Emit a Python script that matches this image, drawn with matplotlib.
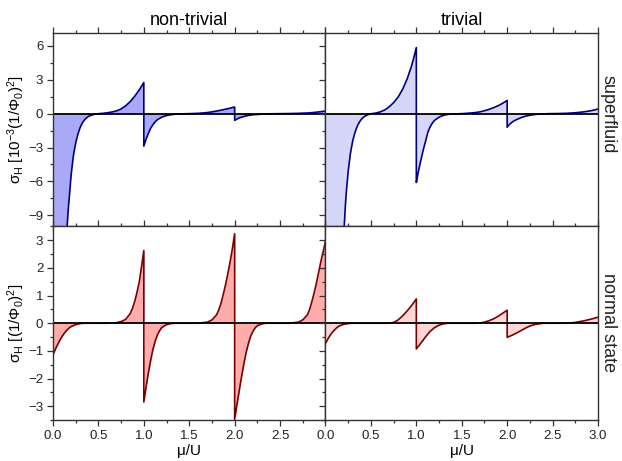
"""
Hall conductivity vs mu/U, superfluid / normal state, non-trivial / trivial
"""
import matplotlib
matplotlib.use('Agg')
import matplotlib.pyplot as plt
from matplotlib.ticker import MultipleLocator

plt.rcParams['font.family'] = ['Liberation Sans', 'DejaVu Sans']
plt.rcParams['mathtext.fontset'] = 'custom'
plt.rcParams['mathtext.rm'] = 'Liberation Sans'
plt.rcParams['mathtext.it'] = 'Liberation Sans:italic'

# non-trivial, superfluid  (units of 1e-3)
mu_nt_sf = [0.0, 0.08, 0.12, 0.155, 0.17, 0.187, 0.2, 0.225, 0.25, 0.275, 0.3, 0.325, 0.35, 0.375, 0.4,
            0.45, 0.5, 0.55, 0.6, 0.65, 0.7, 0.75, 0.8, 0.85, 0.9, 0.95, 1.0,
            1.0, 1.025, 1.05, 1.075, 1.1, 1.125, 1.15, 1.2, 1.25, 1.3, 1.35, 1.4, 1.5,
            1.6, 1.7, 1.75, 1.8, 1.85, 1.9, 1.95, 2.0,
            2.0, 2.05, 2.1, 2.15, 2.2, 2.3, 2.4, 2.5, 2.6, 2.7, 2.8, 2.85, 2.9, 2.95, 3.0]
sig_nt_sf = [-40, -22, -14, -10, -8.3, -6.7, -5.4, -3.7, -2.6, -1.8, -1.2, -0.8, -0.52, -0.33, -0.2,
             -0.07, 0.0, 0.03, 0.08, 0.15, 0.25, 0.42, 0.7, 1.07, 1.55, 2.12, 2.76,
             -2.88, -2.25, -1.75, -1.3, -0.98, -0.72, -0.53, -0.3, -0.17, -0.09, -0.04, -0.02, 0.0,
             0.03, 0.1, 0.16, 0.23, 0.31, 0.4, 0.49, 0.59,
             -0.59, -0.38, -0.25, -0.16, -0.1, -0.04, -0.01, 0.0, 0.01, 0.03, 0.06, 0.09, 0.13, 0.18, 0.24]

# trivial, superfluid  (units of 1e-3)
mu_t_sf = [0.0, 0.1, 0.17, 0.206, 0.22, 0.232, 0.25, 0.275, 0.3, 0.325, 0.35, 0.375, 0.4, 0.425, 0.45,
           0.475, 0.507, 0.55, 0.6, 0.65, 0.7, 0.75, 0.8, 0.85, 0.9, 0.95, 0.975, 1.0,
           1.0, 1.015, 1.03, 1.045, 1.06, 1.08, 1.1, 1.125, 1.15, 1.175, 1.2, 1.24, 1.28, 1.32, 1.36, 1.42,
           1.5, 1.6, 1.65, 1.7, 1.75, 1.8, 1.85, 1.9, 1.95, 2.0,
           2.0, 2.025, 2.05, 2.075, 2.1, 2.15, 2.2, 2.25, 2.3, 2.35, 2.45, 2.55, 2.65, 2.75, 2.8, 2.85,
           2.9, 2.95, 3.0]
sig_t_sf = [-40, -22, -13, -10, -8.0, -6.7, -5.1, -3.5, -2.4, -1.65, -1.1, -0.72, -0.45, -0.27, -0.15,
            -0.07, 0.0, 0.05, 0.15, 0.32, 0.6, 0.98, 1.48, 2.18, 3.1, 4.3, 5.05, 5.86,
            -6.1, -5.45, -4.85, -4.3, -3.77, -3.1, -2.5, -1.7, -1.2, -0.85, -0.6, -0.36, -0.2, -0.1, -0.05, -0.02,
            0.0, 0.06, 0.1, 0.16, 0.26, 0.38, 0.53, 0.7, 0.92, 1.17,
            -1.2, -0.95, -0.78, -0.64, -0.54, -0.36, -0.23, -0.14, -0.08, -0.04, 0.0, 0.01, 0.03, 0.08, 0.12, 0.17,
            0.23, 0.31, 0.41]

# non-trivial, normal state
mu_nt_ns = [0.0, 0.025, 0.05, 0.075, 0.1, 0.125, 0.15, 0.175, 0.2, 0.25, 0.3, 0.35,
            0.6, 0.65, 0.7, 0.75, 0.8, 0.85, 0.875, 0.9, 0.925, 0.95, 0.975, 1.0,
            1.0, 1.025, 1.05, 1.075, 1.1, 1.125, 1.15, 1.175, 1.2, 1.25, 1.3, 1.35,
            1.6, 1.7, 1.75, 1.8, 1.825, 1.85, 1.875, 1.9, 1.925, 1.95, 1.975, 2.0,
            2.0, 2.025, 2.05, 2.075, 2.1, 2.125, 2.15, 2.175, 2.2, 2.225, 2.25, 2.3, 2.35,
            2.6, 2.7, 2.75, 2.8, 2.825, 2.85, 2.875, 2.9, 2.925, 2.95, 2.975, 3.0]
sig_nt_ns = [-1.15, -0.95, -0.78, -0.62, -0.48, -0.36, -0.26, -0.18, -0.12, -0.05, -0.01, 0.0,
             0.0, 0.01, 0.02, 0.06, 0.14, 0.35, 0.54, 0.79, 1.12, 1.5, 2.05, 2.63,
             -2.85, -2.3, -1.8, -1.35, -0.95, -0.65, -0.42, -0.26, -0.15, -0.05, -0.01, 0.0,
             0.0, 0.04, 0.12, 0.3, 0.48, 0.72, 1.05, 1.4, 1.8, 2.22, 2.7, 3.24,
             -3.48, -2.95, -2.45, -1.95, -1.5, -1.08, -0.75, -0.48, -0.3, -0.17, -0.09, -0.02, 0.0,
             0.0, 0.04, 0.12, 0.3, 0.5, 0.78, 1.1, 1.45, 1.85, 2.25, 2.6, 2.97]

# trivial, normal state
mu_t_ns = [0.0, 0.025, 0.05, 0.075, 0.1, 0.125, 0.15, 0.2, 0.25, 0.3,
           0.7, 0.75, 0.8, 0.85, 0.9, 0.95, 1.0,
           1.0, 1.05, 1.1, 1.15, 1.2, 1.25, 1.3, 1.35,
           1.65, 1.7, 1.75, 1.8, 1.85, 1.9, 1.95, 2.0,
           2.0, 2.05, 2.1, 2.15, 2.2, 2.25, 2.3, 2.35, 2.4,
           2.65, 2.7, 2.75, 2.8, 2.85, 2.9, 2.95, 3.0]
sig_t_ns = [-0.73, -0.58, -0.44, -0.33, -0.24, -0.16, -0.1, -0.04, -0.01, 0.0,
            0.0, 0.03, 0.12, 0.27, 0.45, 0.65, 0.88,
            -0.93, -0.72, -0.5, -0.3, -0.16, -0.07, -0.02, 0.0,
            0.0, 0.01, 0.04, 0.09, 0.16, 0.25, 0.36, 0.47,
            -0.51, -0.44, -0.36, -0.27, -0.18, -0.1, -0.05, -0.02, 0.0,
            0.0, 0.01, 0.03, 0.06, 0.09, 0.13, 0.17, 0.22]

col_titles = ['non-trivial', 'trivial']
row_titles = ['superfluid', 'normal state']

fig = plt.figure(figsize=(6.22, 4.61), dpi=100)
gs = fig.add_gridspec(2, 2, left=0.0852, right=0.9614, top=0.9284, bottom=0.089,
                      wspace=0, hspace=0)

panels = [
    (0, 0, mu_nt_sf, sig_nt_sf, '#000080', '#a9a9f7'),
    (0, 1, mu_t_sf, sig_t_sf, '#000080', '#d6d6fb'),
    (1, 0, mu_nt_ns, sig_nt_ns, '#7a0000', '#ffacac'),
    (1, 1, mu_t_ns, sig_t_ns, '#7a0000', '#ffd6d6'),
]

axes = {}
for r, c, x, y, lc, fc in panels:
    ax = fig.add_subplot(gs[r, c])
    axes[(r, c)] = ax
    ax.fill_between(x, y, 0, color=fc, lw=0)
    ax.plot(x, y, color=lc, lw=1.2)
    ax.axhline(0, color='black', lw=1.3)
    ax.set_xlim(0, 3)
    if r == 0:
        ax.set_ylim(-10, 7.15)
        ax.yaxis.set_major_locator(MultipleLocator(3))
        ax.yaxis.set_minor_locator(MultipleLocator(1.5))
    else:
        ax.set_ylim(-3.5, 3.5)
        ax.yaxis.set_major_locator(MultipleLocator(1))
        ax.yaxis.set_minor_locator(MultipleLocator(0.5))
    ax.xaxis.set_major_locator(MultipleLocator(0.5))
    ax.xaxis.set_minor_locator(MultipleLocator(0.25))
    ax.tick_params(which='both', direction='out', top=True, bottom=True, left=True, right=False,
                   labelsize=9.5, colors='#333333', labelcolor='#222222', width=0.9, pad=2.5)
    ax.tick_params(which='major', length=4.5)
    ax.tick_params(which='minor', length=2.5)
    for sp in ax.spines.values():
        sp.set_linewidth(1.0)
        sp.set_color('#333333')
    if r == 0:
        ax.tick_params(labelbottom=False)
    else:
        ax.set_xlabel('μ/U', fontsize=11, labelpad=2)
        ax.xaxis.set_major_formatter(plt.FuncFormatter(lambda v, p: '%.1f' % v))
        if c == 0:
            ax.set_xticks([0, 0.5, 1.0, 1.5, 2.0, 2.5])
            ax.xaxis.set_minor_locator(MultipleLocator(0.25))
    if c == 1:
        ax.tick_params(labelleft=False)
    if r == 0:
        ax.set_title(col_titles[c], fontsize=13, pad=6)

axes[(0, 0)].set_ylabel('σ$_\\mathrm{H}$ [10$^{-3}$(1/Φ$_\\mathrm{0}$)$^2$]', fontsize=11)
axes[(1, 0)].set_ylabel('σ$_\\mathrm{H}$ [(1/Φ$_\\mathrm{0}$)$^2$]', fontsize=11)
axes[(0, 0)].yaxis.set_label_coords(-0.097, 0.5)
axes[(1, 0)].yaxis.set_label_coords(-0.097, 0.5)

fig.text(0.978, 1 - 114 / 461, row_titles[0], rotation=270, ha='center', va='center', fontsize=13,
         color='#222222')
fig.text(0.978, 1 - 323 / 461, row_titles[1], rotation=270, ha='center', va='center', fontsize=13,
         color='#222222')

plt.savefig('out.png', dpi=100)
